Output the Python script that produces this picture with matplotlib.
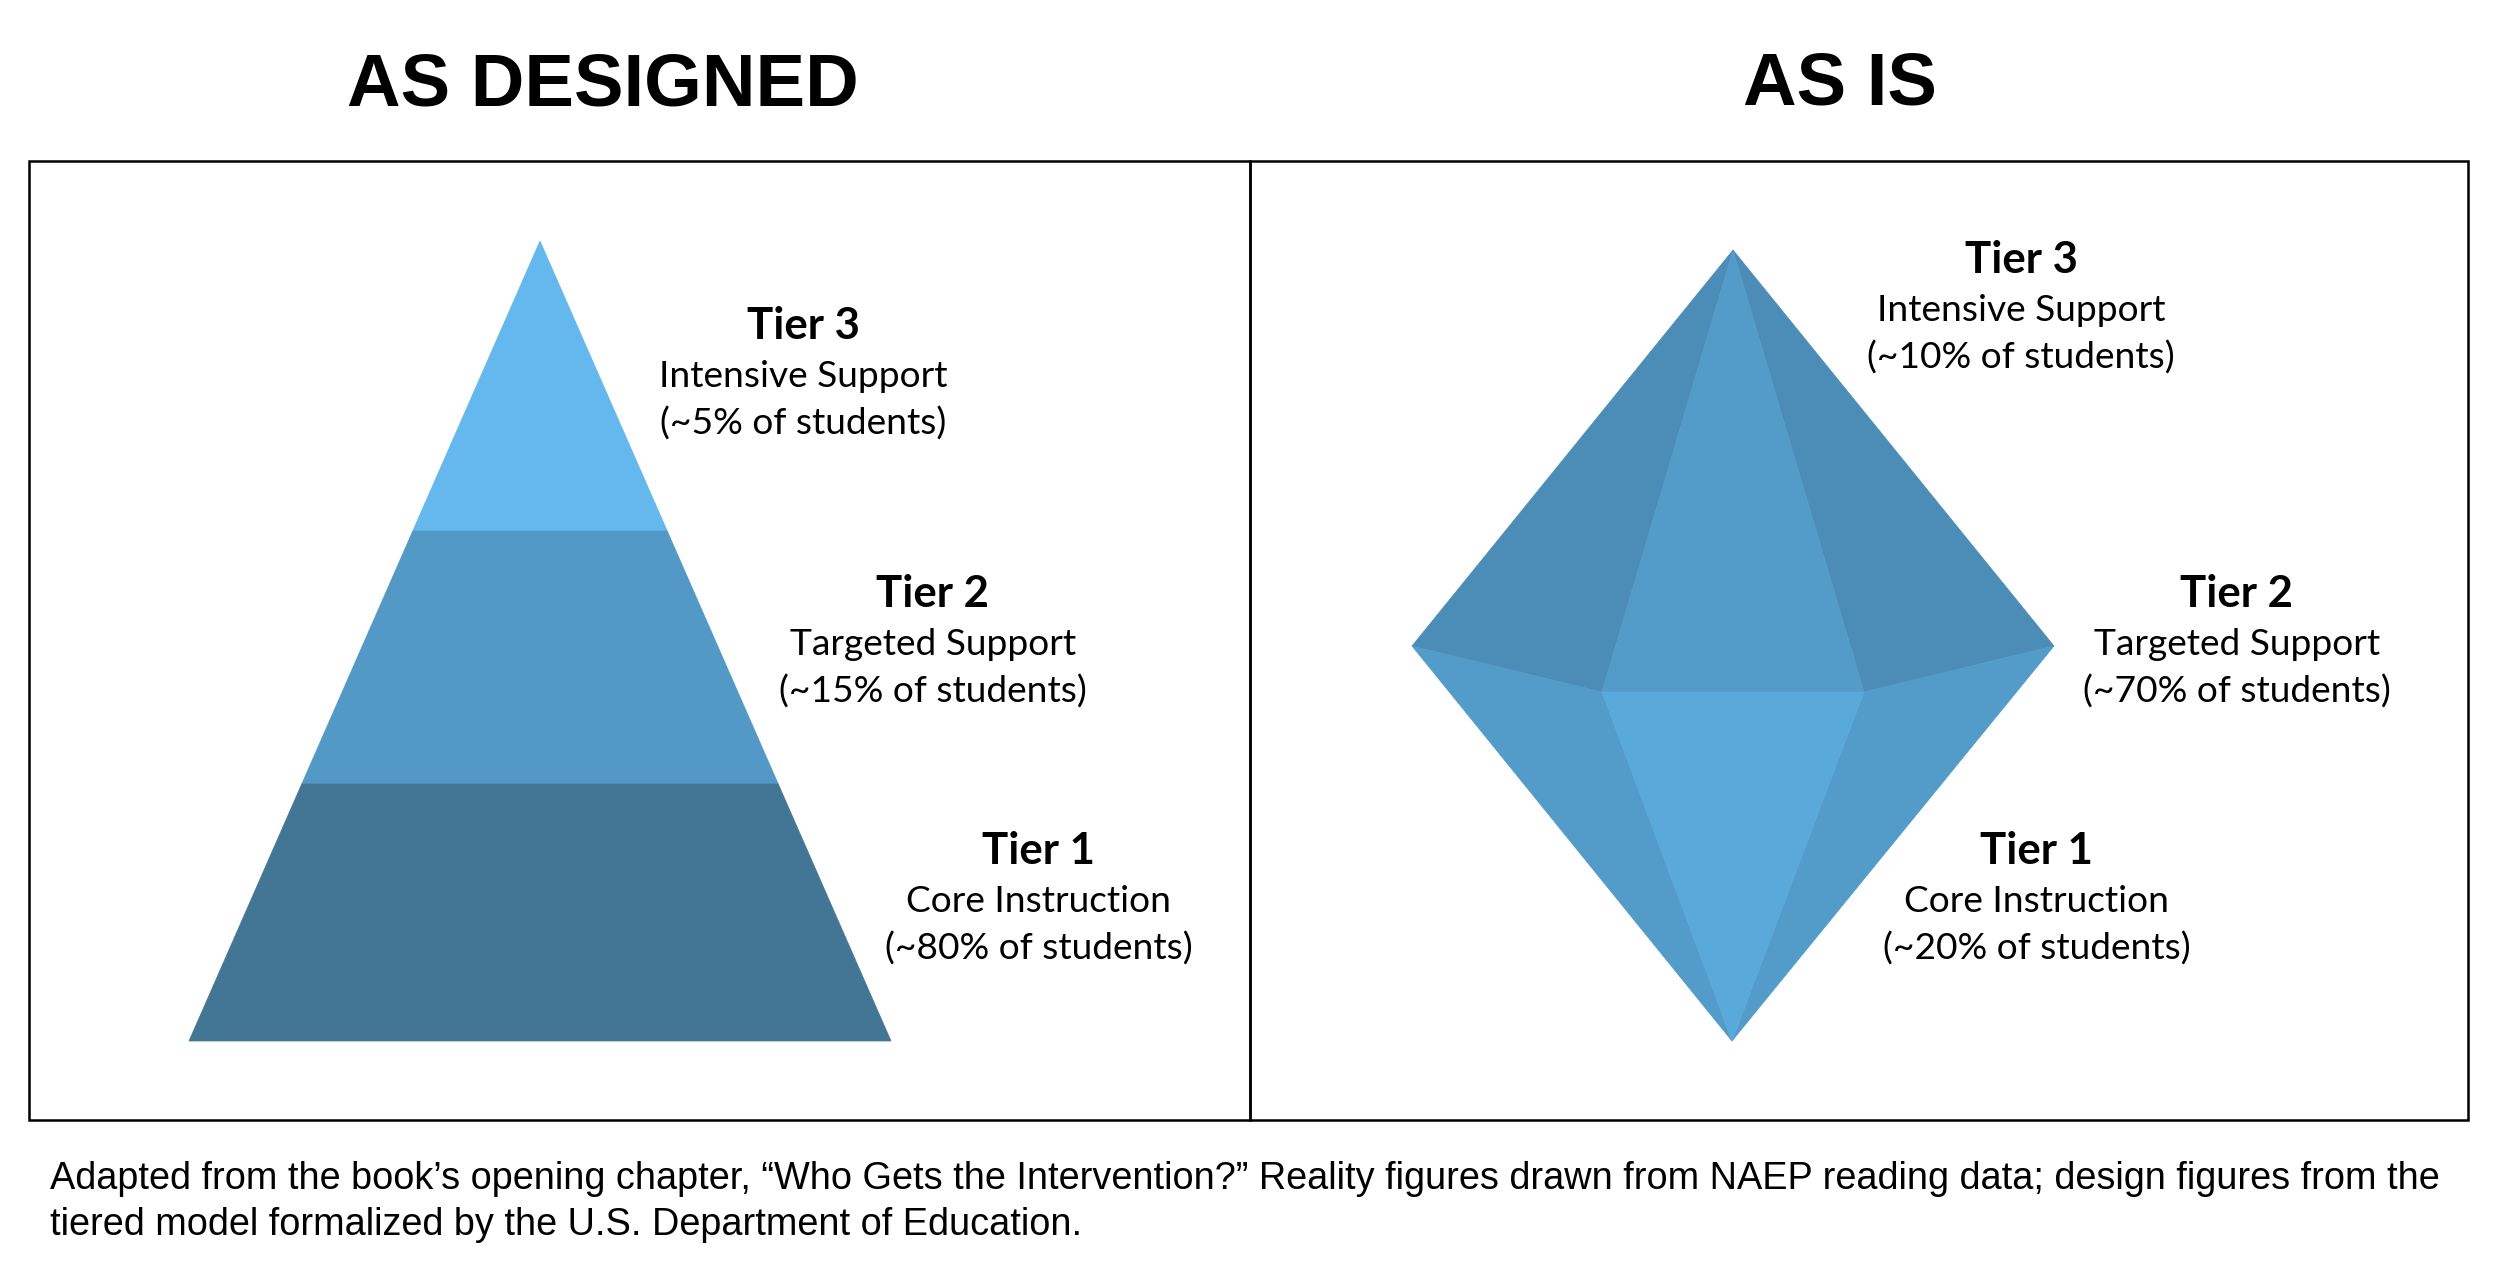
import matplotlib
matplotlib.use("Agg")
import matplotlib.pyplot as plt
from matplotlib.patches import Polygon, Rectangle

# data
tiers = ["Tier 3", "Tier 2", "Tier 1"]
tier_desc = ["Intensive Support", "Targeted Support", "Core Instruction"]
designed_pct = [5, 15, 80]
actual_pct = [10, 70, 20]
panel_titles = ["AS DESIGNED", "AS IS"]
caption = ("Adapted from the book\u2019s opening chapter, \u201cWho Gets the Intervention?\u201d "
           "Reality figures drawn from NAEP reading data; design figures from the\n"
           "tiered model formalized by the U.S. Department of Education.")

label_font = "Lato"
head_font = "Liberation Sans"

fig = plt.figure(figsize=(25, 12.88), dpi=100)
ax = fig.add_axes([0, 0, 1, 1])
ax.set_xlim(0, 2500)
ax.set_ylim(1288, 0)
ax.axis("off")

# panel frames
ax.add_patch(Rectangle((29, 161), 1221, 959, fill=False, ec="black", lw=1.8))
ax.add_patch(Rectangle((1250, 161), 1218, 959, fill=False, ec="black", lw=1.8))

ax.text(603, 86, panel_titles[0], ha="center", va="center", fontsize=53.5,
        fontweight="bold", family=head_font)
ax.text(1840, 86, panel_titles[1], ha="center", va="center", fontsize=53.5,
        fontweight="bold", family=head_font)

# pyramid (as designed)
apex = (540, 241)
base_y = 1041
base_l, base_r = 189, 891
cuts = [241, 531, 784, 1041]
pyr_colors = ["#64B8ED", "#5399C6", "#437594"]

def xedge(y, side):
    t = (y - apex[1]) / (base_y - apex[1])
    end = base_l if side == 0 else base_r
    return apex[0] + t * (end - apex[0])

for i in range(3):
    y0, y1 = cuts[i], cuts[i + 1]
    pts = [(xedge(y0, 0), y0), (xedge(y0, 1), y0), (xedge(y1, 1), y1), (xedge(y1, 0), y1)]
    ax.add_patch(Polygon(pts, closed=True, fc=pyr_colors[i], ec=pyr_colors[i], lw=0.5))

# diamond (as is)
top = (1733, 250)
left = (1412, 646)
right = (2054, 646)
in_l = (1602, 692)
in_r = (1864, 692)
bottom = (1732, 1041)
facets = [
    ([top, left, in_l], "#4C8DB8"),
    ([top, in_r, right], "#4C8DB8"),
    ([top, in_l, in_r], "#539BC9"),
    ([left, in_l, bottom], "#539BC9"),
    ([right, in_r, bottom], "#539BC9"),
    ([in_l, in_r, bottom], "#59A9DB"),
]
for pts, c in facets:
    ax.add_patch(Polygon(pts, closed=True, fc=c, ec=c, lw=0.5))

# tier labels
left_pos = [(803, 326), (933, 594), (1039, 851)]
right_pos = [(2021, 260), (2237, 594), (2037, 851)]

def tier_label(x, y, name, desc, pct):
    ax.text(x, y, name, ha="center", va="center", fontsize=31.5, fontweight="bold",
            family=label_font)
    ax.text(x, y + 50, desc, ha="center", va="center", fontsize=26.7, family=label_font)
    ax.text(x, y + 98, "(~%d%% of students)" % pct, ha="center", va="center",
            fontsize=26.7, family=label_font)

for i in range(3):
    tier_label(left_pos[i][0], left_pos[i][1], tiers[i], tier_desc[i], designed_pct[i])
    tier_label(right_pos[i][0], right_pos[i][1], tiers[i], tier_desc[i], actual_pct[i])

ax.text(50, 1202, caption, ha="left", va="center", fontsize=27.3, family=head_font,
        linespacing=1.36)

fig.savefig("out.png", dpi=100, facecolor="white")
